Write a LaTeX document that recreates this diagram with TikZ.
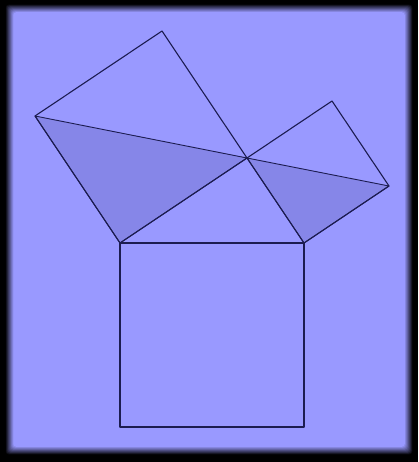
\documentclass[tikz,border=0pt]{standalone}
\definecolor{bgblue}{RGB}{153,153,255}
\definecolor{shade}{RGB}{134,134,232}
\definecolor{edge}{RGB}{28,28,80}
\begin{document}
\begin{tikzpicture}[x=1pt,y=-1pt,
  edgeline/.style={draw=edge,line width=1.1pt,line join=round},
  shadetri/.style={fill=shade,draw=edge,line width=0.9pt,line join=round}]
\useasboundingbox (0,0) rectangle (418,462);
\fill[black] (0,0) rectangle (418,462);
\foreach \i in {0,...,11}{
  \pgfmathsetmacro\p{\i*100/11}
  \fill[bgblue!\p!black,rounded corners=3pt] (5+\i*0.75,4+\i*0.75) rectangle (413-\i*0.75,455-\i*0.75);
}
% triangle vertices
\coordinate (A) at (120,243);
\coordinate (B) at (304,243);
\coordinate (C) at (247,158);
% bottom square
\coordinate (D) at (304,427);
\coordinate (E) at (120,427);
% left square
\coordinate (F) at (35,116);
\coordinate (G) at (162,31);
% right square
\coordinate (H) at (332,101);
\coordinate (K) at (389,186);
% shaded triangles
\filldraw[shadetri] (F) -- (A) -- (C) -- cycle;
\filldraw[shadetri] (C) -- (K) -- (B) -- cycle;
% squares
\draw[edgeline] (A) -- (B) -- (D) -- (E) -- cycle;
\draw[edgeline] (A) -- (F) -- (G) -- (C) -- cycle;
\draw[edgeline] (C) -- (H) -- (K) -- (B) -- cycle;
\end{tikzpicture}
\end{document}
